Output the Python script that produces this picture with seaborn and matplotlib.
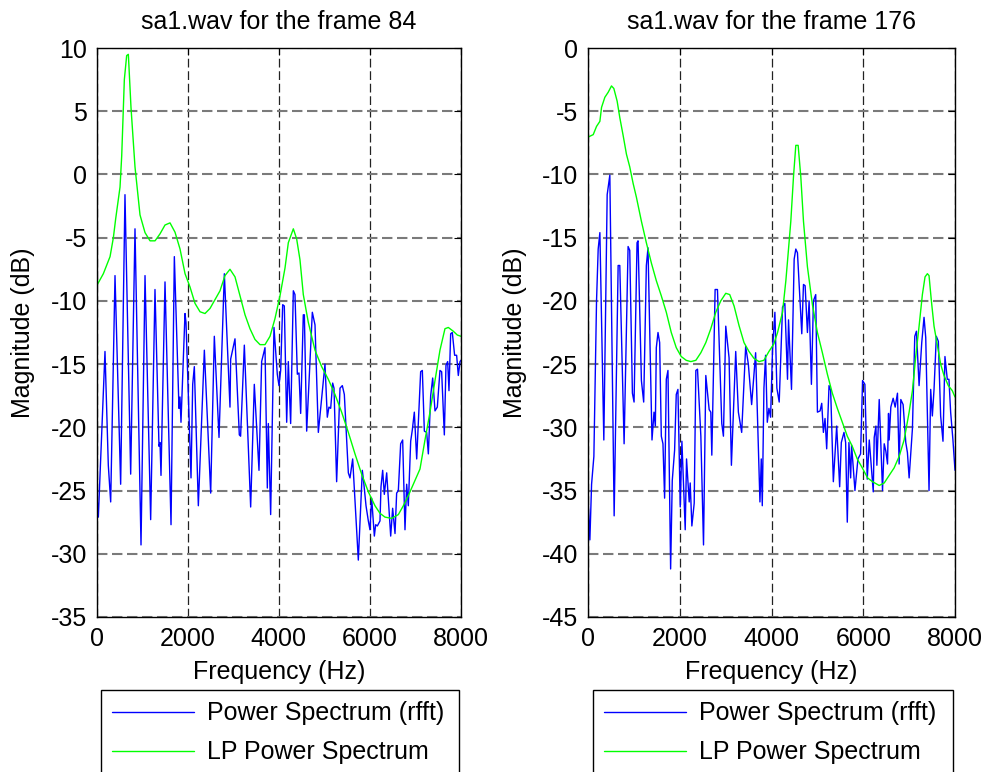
import matplotlib
matplotlib.use("Agg")
import matplotlib.pyplot as plt
import seaborn as sns
import pandas as pd

# ---------------- data: frame 84 ----------------
titles = ["sa1.wav for the frame 84", "sa1.wav for the frame 176"]
legend_labels = ["Power Spectrum (rfft)", "LP Power Spectrum"]
x_ticks = [0, 2000, 4000, 6000, 8000]
y_ticks_84 = [10, 5, 0, -5, -10, -15, -20, -25, -30, -35]
y_ticks_176 = [0, -5, -10, -15, -20, -25, -30, -35, -40, -45]

ps84_f = [0, 36, 182, 255, 307, 402, 526, 621, 746, 841, 973, 1061, 1185, 1280, 1368, 1390,
          1412, 1500, 1632, 1705, 1807, 1829, 1851, 1939, 1961, 2071, 2108, 2144, 2232, 2364,
          2503, 2583, 2686, 2803, 2927, 2942, 3037, 3132, 3160, 3242, 3381, 3461, 3564, 3622,
          3696, 3747, 3769, 3820, 3893, 3966, 4003, 4040, 4084, 4120, 4172, 4208, 4259, 4318,
          4354, 4406, 4442, 4479, 4537, 4560, 4611, 4735, 4794, 4867, 5013, 5064, 5100, 5138,
          5182, 5211, 5269, 5343, 5394, 5438, 5526, 5562, 5621, 5745, 5833, 5862, 5914, 5965,
          6001, 6038, 6097, 6126, 6163, 6221, 6243, 6280, 6316, 6368, 6456, 6499, 6551, 6587,
          6624, 6675, 6719, 6770, 6807, 6843, 6895, 6931, 6975, 7027, 7114, 7151, 7195, 7246,
          7283, 7334, 7378, 7429, 7480, 7538, 7575, 7634, 7670, 7707, 7736, 7773, 7809, 7860,
          7904, 7941, 7978, 8000]
ps84_db = [-25.1, -27.1, -14.0, -23.0, -25.9, -8.0, -24.5, -1.6, -23.7, -4.3, -29.3, -8.0, -27.3,
           -9.1, -21.5, -21.2, -23.8, -8.5, -27.7, -6.5, -18.5, -17.6, -19.6, -11.0, -11.7, -24.0,
           -16.6, -15.2, -26.2, -13.9, -25.2, -12.8, -20.8, -7.85, -18.4, -14.6, -13.0, -20.6,
           -20.7, -13.5, -26.3, -16.6, -23.4, -14.8, -13.7, -24.8, -19.7, -26.9, -12.1, -15.8,
           -16.7, -15.5, -10.3, -10.4, -19.6, -14.8, -19.7, -9.2, -9.5, -15.8, -15.7, -18.9,
           -11.1, -11.1, -20.3, -10.9, -11.9, -20.4, -15.0, -19.2, -18.4, -18.5, -16.5, -16.9,
           -24.3, -16.9, -16.7, -17.4, -23.6, -24.0, -22.5, -30.5, -23.4, -24.3, -26.2, -27.4,
           -28.1, -25.6, -28.6, -27.7, -27.8, -27.4, -24.7, -23.4, -25.3, -23.6, -28.6, -26.4,
           -28.4, -25.2, -25.0, -21.3, -21.0, -28.1, -24.5, -26.2, -21.1, -20.2, -18.8, -22.5,
           -15.6, -15.5, -20.3, -20.4, -22.1, -17.5, -16.1, -18.7, -18.4, -15.5, -15.6, -20.6,
           -15.1, -14.8, -17.1, -12.6, -12.5, -14.3, -14.3, -15.9, -14.8, -14.7]

lp84_f = [0, 146, 293, 366, 417, 512, 549, 607, 658, 695, 753, 841, 951, 1061, 1171, 1281, 1390,
          1500, 1610, 1720, 1830, 1940, 2049, 2159, 2269, 2378, 2488, 2598, 2708, 2817, 2927,
          3037, 3147, 3257, 3366, 3476, 3586, 3696, 3806, 3915, 4025, 4135, 4208, 4318, 4391,
          4464, 4537, 4647, 4794, 4940, 5086, 5233, 5379, 5526, 5672, 5818, 5965, 6111, 6221,
          6331, 6477, 6624, 6734, 6843, 6953, 7099, 7209, 7319, 7429, 7538, 7648, 7721, 7831,
          7919, 8000]
lp84_db = [-8.8, -7.85, -6.5, -5.0, -3.5, -1.0, 1.45, 7.5, 9.4, 9.5, 5.3, 0.6, -3.2, -4.6, -5.25,
           -5.25, -4.7, -4.0, -3.83, -4.57, -5.9, -7.85, -8.9, -10.2, -10.86, -11.0, -10.6, -9.9,
           -9.2, -8.0, -7.5, -8.1, -9.6, -11.1, -12.2, -13.05, -13.46, -13.46, -12.8, -11.4, -9.6,
           -7.4, -5.4, -4.3, -5.1, -6.75, -9.5, -11.7, -13.9, -15.2, -16.2, -17.4, -18.8, -20.4,
           -22.1, -23.7, -25.1, -26.2, -26.8, -27.1, -27.2, -26.9, -26.2, -25.4, -24.5, -23.3,
           -21.0, -18.8, -16.3, -13.9, -12.2, -12.1, -12.4, -12.7, -12.8]

# ---------------- data: frame 176 ----------------
ps176_f = [0, 41, 78, 128, 186, 222, 259, 345, 418, 476, 570, 657, 693, 787, 874, 910, 968, 1004,
           1069, 1091, 1164, 1214, 1272, 1308, 1395, 1439, 1468, 1489, 1526, 1562, 1598, 1634,
           1670, 1707, 1743, 1801, 1837, 1888, 1924, 1960, 2011, 2047, 2119, 2148, 2206, 2228,
           2264, 2315, 2351, 2387, 2460, 2518, 2568, 2641, 2677, 2699, 2771, 2822, 2916, 2952,
           3003, 3075, 3126, 3220, 3278, 3350, 3437, 3495, 3567, 3654, 3748, 3777, 3799, 3835,
           3871, 3908, 3944, 3980, 4023, 4074, 4117, 4168, 4240, 4291, 4349, 4371, 4436, 4494,
           4530, 4566, 4660, 4697, 4733, 4783, 4820, 4870, 4914, 4964, 5001, 5059, 5095, 5131,
           5167, 5203, 5254, 5290, 5348, 5421, 5486, 5522, 5580, 5616, 5652, 5688, 5725, 5746,
           5819, 5884, 5942, 5985, 6036, 6087, 6131, 6218, 6239, 6276, 6297, 6348, 6420, 6457,
           6493, 6529, 6551, 6565, 6601, 6652, 6696, 6746, 6782, 6819, 6869, 6927, 6963, 7000,
           7036, 7072, 7123, 7159, 7217, 7275, 7325, 7362, 7434, 7470, 7506, 7543, 7593, 7637,
           7687, 7738, 7781, 7832, 7868, 7905, 7955, 8000]
ps176_db = [-35.5, -38.9, -34.5, -32.3, -20.0, -15.9, -14.6, -31.0, -11.6, -10.05, -37.0, -17.2,
            -17.2, -31.3, -15.7, -16.0, -27.3, -28.0, -15.4, -15.25, -26.3, -28.0, -17.2, -15.8,
            -31.0, -28.8, -29.9, -23.7, -22.5, -23.3, -30.7, -31.3, -35.6, -26.2, -25.5, -41.2,
            -34.2, -31.8, -27.4, -27.0, -36.3, -31.1, -38.1, -32.5, -35.9, -34.4, -37.8, -36.0,
            -25.5, -25.4, -30.7, -39.3, -25.9, -28.6, -28.8, -32.2, -19.1, -19.1, -29.7, -30.7,
            -22.0, -24.5, -33.0, -24.0, -28.8, -30.4, -23.6, -25.0, -28.2, -24.1, -35.9, -32.5,
            -36.2, -26.9, -24.3, -29.6, -28.5, -29.2, -23.8, -20.9, -26.9, -28.0, -20.5, -20.2,
            -26.2, -21.5, -27.0, -16.7, -15.9, -16.2, -22.6, -18.7, -18.8, -22.5, -20.0, -26.6,
            -20.0, -19.5, -28.8, -28.7, -28.1, -30.4, -29.3, -31.7, -26.7, -27.1, -34.3, -29.9,
            -34.7, -31.2, -30.4, -31.2, -37.5, -31.2, -34.0, -31.4, -35.0, -32.5, -32.1, -26.3,
            -26.6, -34.1, -31.0, -35.1, -30.8, -29.9, -33.0, -27.8, -35.0, -31.3, -31.9, -32.9,
            -28.9, -31.0, -28.4, -27.7, -28.4, -27.3, -32.9, -27.8, -28.2, -31.2, -32.0, -34.0,
            -32.0, -30.1, -22.8, -22.4, -26.7, -23.3, -21.3, -22.9, -35.0, -27.0, -29.1, -27.0,
            -22.8, -23.2, -29.1, -31.1, -24.4, -26.2, -26.2, -28.8, -31.0, -33.4]

lp176_f = [0, 114, 186, 259, 295, 367, 440, 512, 563, 635, 693, 765, 838, 910, 983, 1055, 1164,
           1272, 1381, 1489, 1598, 1707, 1815, 1924, 2032, 2141, 2242, 2351, 2460, 2568, 2677,
           2785, 2894, 3003, 3089, 3184, 3292, 3401, 3509, 3618, 3727, 3835, 3944, 4052, 4132,
           4240, 4313, 4364, 4421, 4479, 4530, 4581, 4639, 4697, 4783, 4892, 5001, 5109, 5218,
           5326, 5435, 5544, 5652, 5761, 5869, 5978, 6095, 6203, 6348, 6457, 6565, 6674, 6782,
           6891, 7000, 7072, 7144, 7217, 7289, 7347, 7398, 7434, 7485, 7543, 7615, 7687, 7760,
           7854, 7941, 8000]
lp176_db = [-7.05, -6.85, -6.2, -5.8, -4.7, -3.9, -3.5, -3.0, -3.2, -4.2, -5.5, -6.9, -8.4, -9.4,
            -10.7, -11.8, -13.7, -15.4, -17.0, -18.4, -19.6, -20.9, -22.5, -23.7, -24.4, -24.7,
            -24.8, -24.7, -24.1, -23.3, -22.2, -20.9, -20.0, -19.4, -19.5, -20.4, -21.95, -23.3,
            -24.0, -24.55, -24.8, -24.7, -24.0, -23.4, -22.5, -20.9, -18.4, -16.2, -13.7, -10.2,
            -7.7, -7.7, -10.2, -13.7, -17.3, -20.3, -22.5, -24.1, -25.8, -27.3, -28.5, -29.6,
            -30.7, -31.5, -32.5, -33.2, -34.0, -34.3, -34.6, -34.4, -33.8, -33.2, -32.3, -31.0,
            -28.8, -27.1, -24.4, -22.0, -19.5, -18.1, -17.85, -18.0, -20.0, -22.0, -23.5, -25.0,
            -25.9, -26.7, -27.1, -27.6]

panels = [
    (titles[0], ps84_f, ps84_db, lp84_f, lp84_db, (-35, 10), y_ticks_84),
    (titles[1], ps176_f, ps176_db, lp176_f, lp176_db, (-45, 0), y_ticks_176),
]

sns.set_style("white")
plt.rcParams["font.family"] = ["Liberation Sans", "DejaVu Sans"]
plt.rcParams["axes.unicode_minus"] = False
plt.rcParams["text.color"] = "black"
plt.rcParams["axes.labelcolor"] = "black"
plt.rcParams["xtick.color"] = "black"
plt.rcParams["ytick.color"] = "black"

W, H = 985, 772
fig = plt.figure(figsize=(W / 100, H / 100), dpi=100)
ax_rects = [(96.7, 48, 461, 617), (588, 48, 955, 617)]
leg_rects = [(100.7, 690, 459), (592.7, 690, 952.7)]
FS = 18

for (title, pf, pdb, lf, ldb, ylim, yt), (x0, y0, x1, y1), (lx0, ly0, lx1) in zip(panels, ax_rects, leg_rects):
    ax = fig.add_axes([x0 / W, 1 - y1 / H, (x1 - x0) / W, (y1 - y0) / H])
    df_ps = pd.DataFrame({"Frequency": pf, "Magnitude": pdb})
    df_lp = pd.DataFrame({"Frequency": lf, "Magnitude": ldb})
    sns.lineplot(data=df_ps, x="Frequency", y="Magnitude", ax=ax, color="#0000ff",
                 lw=1.0, estimator=None, sort=False, label=legend_labels[0])
    sns.lineplot(data=df_lp, x="Frequency", y="Magnitude", ax=ax, color="#00ff00",
                 lw=1.0, estimator=None, sort=False, label=legend_labels[1])
    ax.set_xlim(0, 8000)
    ax.set_ylim(*ylim)
    ax.set_xticks(x_ticks)
    ax.set_yticks(yt)
    ax.set_axisbelow(True)
    ax.grid(False)
    ax.xaxis.grid(True, color="#222222", lw=0.9, linestyle=(0, (7, 3)))
    ax.yaxis.grid(True, color="#7a7a7a", lw=1.5, linestyle=(0, (5, 2.2)))
    for s in ax.spines.values():
        s.set_color("black")
        s.set_linewidth(1.0)
    ax.tick_params(direction="in", top=True, right=True, length=5, width=0.8,
                   labelsize=FS, pad=7, colors="black")
    ax.set_title(title, fontsize=FS, pad=14, color="black")
    ax.set_xlabel("Frequency (Hz)", fontsize=FS, labelpad=7, color="black")
    ax.set_ylabel("Magnitude (dB)", fontsize=FS, labelpad=11, color="black")
    handles, labels = ax.get_legend_handles_labels()
    leg = ax.legend(handles, labels, loc="upper left",
                    bbox_to_anchor=(lx0 / W, 1 - ly0 / H, (lx1 - lx0) / W, 0),
                    bbox_transform=fig.transFigure, mode="expand", fontsize=FS,
                    frameon=True, fancybox=False, edgecolor="black", framealpha=1,
                    borderpad=0.45, labelspacing=0.6, handlelength=3.3,
                    handletextpad=0.5, borderaxespad=0)
    leg.get_frame().set_linewidth(1.0)
    for t in leg.get_texts():
        t.set_color("black")

fig.savefig("out.png", dpi=100)
